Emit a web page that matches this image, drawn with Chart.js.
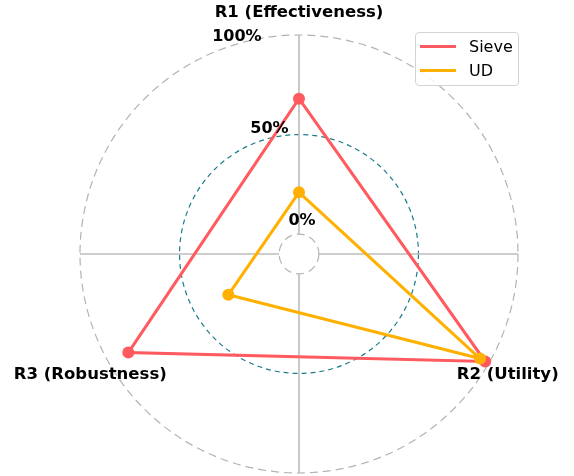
<!DOCTYPE html>
<html><head><meta charset="utf-8">
<script src="https://cdn.jsdelivr.net/npm/chart.js@4"></script>
<style>
html,body{margin:0;padding:0;background:#fff;}
#wrap{position:relative;width:574px;height:476px;}
#legend{position:absolute;left:415px;top:32px;width:102px;height:52px;border:1px solid #d3d3d3;border-radius:4px;background:rgba(255,255,255,0.85);font-family:"DejaVu Sans";font-size:16px;color:#000;}
.item{position:absolute;left:4px;height:20px;display:flex;align-items:center;white-space:nowrap;}
.swatch{width:36px;height:3px;margin-right:13px;}
</style></head>
<body>
<div id="wrap">
<canvas id="c" width="574" height="476"></canvas>
<div id="legend"></div>
</div>
<script>
const categories = ['R1 (Effectiveness)', 'R2 (Utility)', 'R3 (Robustness)'];
const seriesNames = ['Sieve', 'UD'];
const sieveValues = [68, 98, 89];
const udValues = [21, 95, 31];
const tickValues = [0, 50, 100];
const tickLabels = ['0%', '50%', '100%'];
const seriesColors = ['#FF5A5F', '#FFB000'];

const FONT = '"DejaVu Sans", "Liberation Sans", sans-serif';

const crossLines = {
  id: 'crossLines',
  beforeDatasetsDraw(chart) {
    const s = chart.scales.r, ctx = chart.ctx;
    const r0 = s.getDistanceFromCenterForValue(tickValues[0]);
    const r1 = s.getDistanceFromCenterForValue(tickValues[tickValues.length - 1]);
    ctx.save();
    ctx.strokeStyle = '#bcbcbc';
    ctx.lineWidth = 1.6;
    for (let k = 0; k < 4; k++) {
      const a = k * Math.PI / 2;
      ctx.beginPath();
      ctx.moveTo(s.xCenter + r0 * Math.cos(a), s.yCenter + r0 * Math.sin(a));
      ctx.lineTo(s.xCenter + r1 * Math.cos(a), s.yCenter + r1 * Math.sin(a));
      ctx.stroke();
    }
    ctx.restore();
  }
};

const textLabels = {
  id: 'textLabels',
  afterDraw(chart) {
    const s = chart.scales.r, ctx = chart.ctx;
    ctx.save();
    ctx.fillStyle = '#000';
    ctx.font = 'bold 16px ' + FONT;
    const ang = 22.5 * Math.PI / 180;
    ctx.textAlign = 'left';
    ctx.textBaseline = 'middle';
    tickValues.forEach((v, i) => {
      const d = s.getDistanceFromCenterForValue(v);
      const x = s.xCenter - d * Math.sin(ang);
      const y = s.yCenter - d * Math.cos(ang);
      ctx.fillText(tickLabels[i], x - 3, y - 15);
    });
    ctx.font = 'bold 16.5px ' + FONT;
    ctx.textAlign = 'center';
    categories.forEach((c, i) => {
      const p = s.getPointPosition(i, s.drawingArea + 22);
      ctx.fillText(c, p.x, p.y);
    });
    ctx.restore();
  }
};

const chart = new Chart(document.getElementById('c'), {
  type: 'radar',
  data: {
    labels: categories,
    datasets: [
      { label: seriesNames[0], data: sieveValues, borderColor: seriesColors[0], backgroundColor: seriesColors[0],
        pointBackgroundColor: seriesColors[0], pointBorderWidth: 0, pointRadius: 6, borderWidth: 3, fill: false, order: 1 },
      { label: seriesNames[1], data: udValues, borderColor: seriesColors[1], backgroundColor: seriesColors[1],
        pointBackgroundColor: seriesColors[1], pointBorderWidth: 0, pointRadius: 6, borderWidth: 3, fill: false, order: 0 }
    ]
  },
  options: {
    responsive: false,
    devicePixelRatio: 1,
    animation: false,
    layout: { padding: { left: 80, right: 56, top: 35, bottom: 3 } },
    plugins: { legend: { display: false }, tooltip: { enabled: false } },
    elements: { line: { tension: 0 } },
    scales: {
      r: {
        min: -10,
        max: 100,
        startAngle: 0,
        afterBuildTicks(scale) { scale.ticks = tickValues.map(v => ({ value: v })); },
        ticks: { display: false },
        pointLabels: { display: false },
        angleLines: { display: false },
        grid: {
          circular: true,
          color: ctx => ctx.tick && ctx.tick.value === 50 ? '#1b7c8a' : '#b3b3b3',
          lineWidth: 1.2
        },
        border: {
          dash: ctx => ctx.tick && ctx.tick.value === 50 ? [5, 4] : [8, 5]
        }
      }
    }
  },
  plugins: [crossLines, textLabels]
});

const legend = document.getElementById('legend');
chart.data.datasets.forEach((ds, i) => {
  const item = document.createElement('div');
  item.className = 'item';
  item.style.top = (i === 0 ? 3 : 27) + 'px';
  const sw = document.createElement('span');
  sw.className = 'swatch';
  sw.style.background = ds.borderColor;
  const tx = document.createElement('span');
  tx.textContent = ds.label;
  item.appendChild(sw); item.appendChild(tx);
  legend.appendChild(item);
});
</script>
</body></html>
